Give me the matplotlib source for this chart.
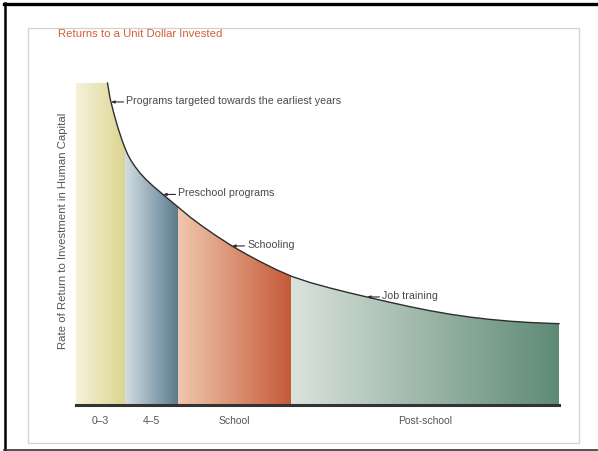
import numpy as np
import matplotlib.pyplot as plt
from matplotlib.colors import to_rgb
from matplotlib.patches import Polygon, Rectangle
from matplotlib.lines import Line2D

plt.rcParams['font.family'] = ['Liberation Sans', 'DejaVu Sans']

## Data

# stage boundaries along the age axis (arbitrary units)
stage_edges = [0, 49, 102, 215, 483]
stage_labels = ['0–3', '4–5', 'School', 'Post-school']
stage_light = ['#f6f2da', '#d3dde2', '#f0c8ae', '#dbe3dc']
stage_dark = ['#ddd591', '#5b7b8e', '#c55a38', '#5e8a75']

# rate of return curve (arbitrary units)
curve_x = [31.5, 32.5, 34, 36, 38, 40, 42, 44, 46, 48, 50, 52, 55, 59, 64, 70,
           77, 87, 102, 114, 124, 139, 156, 170, 184, 200, 216, 234, 254, 274,
           291, 314, 334, 354, 374, 394, 414, 434, 454, 483]
curve_y = [322, 316, 307, 299, 291, 284, 277, 271, 265, 259.5, 254.5, 250, 244.5,
           238.5, 232, 225.5, 219, 210.5, 198, 188, 180.5, 170, 159, 151, 143.5,
           135.5, 128.5, 122.5, 117, 112, 108, 102.7, 98.3, 94.3, 90.8, 87.9, 85.6,
           83.8, 82.5, 81.3]
y_top = 322

# labels pointing at the curve
notes = ['Programs targeted towards the earliest years', 'Preschool programs', 'Schooling', 'Job training']
note_x = [35, 87, 156, 291]
note_y = [303, 210.5, 159, 108]

##

W, H = 598, 452
fig = plt.figure(figsize=(W/100, H/100), dpi=100)

# page frame
over = fig.add_axes([0, 0, 1, 1])
over.set_xlim(0, W)
over.set_ylim(H, 0)
over.axis('off')
over.add_patch(Rectangle((28, 29), 551, 415, fill=False, ec='#d2d2d2', lw=0.9))
over.add_line(Line2D([4, W], [4.5, 4.5], color='k', lw=2.4))
over.add_line(Line2D([5, 5], [4, 451], color='k', lw=1.8))
over.add_line(Line2D([4, W], [450.5, 450.5], color='#333333', lw=1.2))

ax = fig.add_axes([76/W, 1 - 406/H, 483/W, 322/H])
ax.set_xlim(stage_edges[0], stage_edges[-1])
ax.set_ylim(0, y_top)
for s in ax.spines.values():
    s.set_visible(False)

# gradient colours, one column per x step
xs = np.linspace(stage_edges[0], stage_edges[-1], 2000)
cols = np.zeros((1, len(xs), 3))
for k in range(len(stage_labels)):
    a, b = stage_edges[k], stage_edges[k+1]
    m = (xs >= a) & (xs <= b)
    t = (xs[m] - a) / (b - a)
    c0 = np.array(to_rgb(stage_light[k]))
    c1 = np.array(to_rgb(stage_dark[k]))
    cols[0, m] = c0 + (c1 - c0) * t[:, None]

img = ax.imshow(cols, extent=[stage_edges[0], stage_edges[-1], 0, y_top],
                aspect='auto', interpolation='nearest', origin='lower', zorder=1)
verts = [(stage_edges[0], 0), (stage_edges[0], y_top)] + list(zip(curve_x, curve_y)) + [(stage_edges[-1], 0)]
clip = Polygon(verts, closed=True, transform=ax.transData, fc='none', ec='none')
ax.add_patch(clip)
img.set_clip_path(clip)

ax.plot(curve_x, curve_y, color='#2e2e2e', lw=1.0, zorder=3, clip_on=False,
        solid_joinstyle='round')
ax.axhline(0, color='#333333', lw=2.2, zorder=4, clip_on=False)

for txt, x, y in zip(notes, note_x, note_y):
    ax.annotate(txt, xy=(x, y), xytext=(11, 1.5), textcoords='offset points',
                ha='left', va='center', fontsize=7.7, color='#4a4a4a',
                arrowprops=dict(arrowstyle='-|>,head_length=0.25,head_width=0.1',
                                color='#2e2e2e', lw=0.8, shrinkA=0, shrinkB=0,
                                relpos=(0, 0.3)))

centers = [(stage_edges[k] + stage_edges[k+1]) / 2 for k in range(len(stage_labels))]
ax.set_xticks(centers, stage_labels)
ax.set_yticks([])
ax.tick_params(axis='x', length=0, pad=7, labelsize=7.5, labelcolor='#555555')

fig.text(63/W, 1 - 231/H, 'Rate of Return to Investment in Human Capital',
         rotation=90, ha='center', va='center', fontsize=8.2, color='#555555')
fig.text(58/W, 1 - 34/H, 'Returns to a Unit Dollar Invested',
         ha='left', va='center', fontsize=8.2, color='#d2603a')

fig.savefig('out.png', dpi=100)
